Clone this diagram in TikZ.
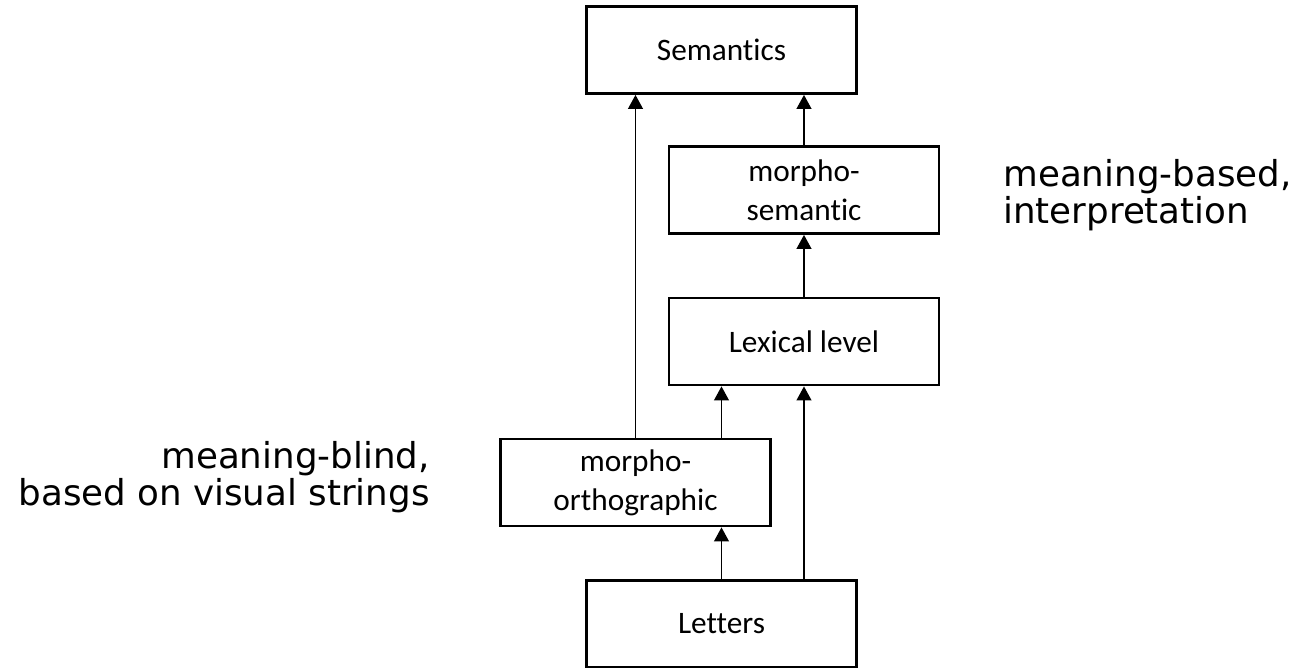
\documentclass[tikz,border=0pt]{standalone}
\usepackage{fontspec}
\setmainfont{Carlito}[Ligatures={NoCommon,NoContextual}]
\newfontfamily\notefont{DejaVu Sans}
\usetikzlibrary{arrows.meta}

\begin{document}
\begin{tikzpicture}[x={(0.02cm,0)},y={(0,-0.02cm)},
  level/.style={draw,line width=1.6pt,minimum width=5.4cm,minimum height=1.74cm,align=center,inner sep=0pt,font=\fontsize{17.8}{22}\selectfont},
  feed/.style={-{Triangle[length=8pt,width=8.5pt]},line width=0.8pt},
  note/.style={inner sep=0pt,font=\notefont\fontsize{20.3}{21}\selectfont}]
\useasboundingbox (0,0) rectangle (1299,667);
% processing levels
\node[level] (sem) at (721.5,50) {Semantics};
\node[level] (msem) at (804,190) {morpho-\\semantic};
\node[level] (lex) at (804,341.5) {Lexical level};
\node[level] (mort) at (635.5,482.5) {morpho-\\orthographic};
\node[level] (let) at (721.5,624) {Letters};
% feed-forward links
\draw[feed] (mort.north) -- (mort.north |- sem.south);
\draw[feed] (msem.north) -- (msem.north |- sem.south);
\draw[feed] (lex.north) -- (msem.south);
\draw[feed] (let.north |- mort.north) -- (let.north |- lex.south);
\draw[feed] (let.north) -- (let.north |- mort.south);
\draw[feed] (lex.south |- let.north) -- (lex.south);
% side notes (base = last line)
\node[note,anchor=base west,align=left] (based) at (1003,223) {meaning-based,\\interpretation};
\node[note,anchor=base east,align=right] (blind) at (430,505) {meaning-blind,\\based on visual strings};
\end{tikzpicture}
\end{document}
